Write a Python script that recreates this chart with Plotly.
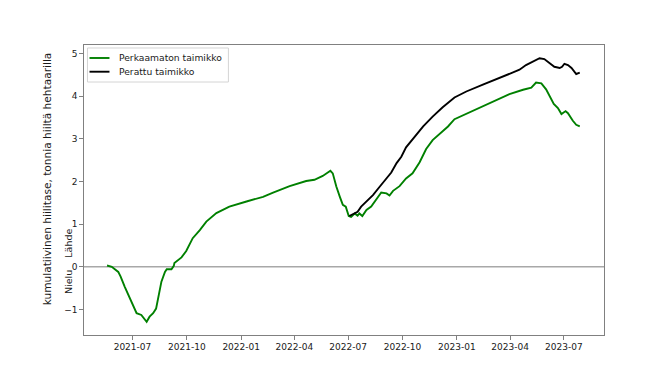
import plotly.graph_objects as go

green_dates = ["2021-05-19","2021-05-27","2021-06-07","2021-06-11","2021-06-18","2021-06-24","2021-06-29",
    "2021-07-05","2021-07-08","2021-07-16","2021-07-22","2021-07-25","2021-07-30","2021-08-05","2021-08-10",
    "2021-08-13","2021-08-16","2021-08-19","2021-08-25","2021-08-28","2021-09-05","2021-09-09","2021-09-10",
    "2021-09-22","2021-09-30","2021-10-11","2021-10-23","2021-11-03","2021-11-20","2021-12-12","2022-01-10",
    "2022-02-07","2022-02-24","2022-03-24","2022-04-21","2022-05-05","2022-05-19","2022-06-01","2022-06-05",
    "2022-06-11","2022-06-17","2022-06-22","2022-06-27","2022-07-02","2022-07-06","2022-07-12","2022-07-17",
    "2022-07-20","2022-07-25","2022-08-01","2022-08-09","2022-08-15","2022-08-20","2022-08-26","2022-09-04",
    "2022-09-09","2022-09-15","2022-09-26","2022-10-07","2022-10-18","2022-10-30","2022-11-10","2022-11-21",
    "2022-12-08","2022-12-17","2022-12-28","2023-01-23","2023-02-14","2023-03-14","2023-03-31","2023-04-23",
    "2023-05-07","2023-05-15","2023-05-24","2023-06-01","2023-06-08","2023-06-14","2023-06-21","2023-06-27",
    "2023-07-04","2023-07-08","2023-07-16","2023-07-22","2023-07-28"]
green_values = [0.03,0.00,-0.12,-0.23,-0.47,-0.66,-0.82,
    -1.02,-1.09,-1.13,-1.25,-1.29,-1.17,-1.09,-0.98,
    -0.78,-0.55,-0.35,-0.12,-0.06,-0.06,0.02,0.09,
    0.22,0.37,0.67,0.86,1.06,1.26,1.41,1.53,
    1.64,1.74,1.89,2.01,2.04,2.13,2.25,2.19,
    1.88,1.64,1.45,1.41,1.19,1.17,1.25,1.20,
    1.25,1.19,1.33,1.41,1.53,1.64,1.74,1.72,
    1.67,1.78,1.89,2.07,2.19,2.45,2.76,2.97,
    3.17,3.29,3.46,3.62,3.76,3.93,4.05,4.15,
    4.20,4.32,4.30,4.16,3.99,3.82,3.72,3.58,
    3.65,3.60,3.43,3.33,3.29]

black_dates = ["2022-07-03","2022-07-09","2022-07-17","2022-07-23","2022-08-01","2022-08-12","2022-08-23",
    "2022-09-04","2022-09-12","2022-09-21","2022-09-29","2022-10-07","2022-10-18","2022-11-05","2022-11-21",
    "2022-12-08","2022-12-28","2023-01-17","2023-02-14","2023-03-14","2023-04-17","2023-04-28","2023-05-10",
    "2023-05-21","2023-05-29","2023-06-07","2023-06-15","2023-06-24","2023-06-28","2023-07-02","2023-07-08",
    "2023-07-14","2023-07-22","2023-07-28"]
black_values = [1.19,1.24,1.29,1.41,1.53,1.68,1.87,
    2.08,2.21,2.43,2.58,2.80,2.99,3.29,3.52,
    3.74,3.97,4.11,4.27,4.42,4.62,4.73,4.81,
    4.89,4.87,4.77,4.69,4.66,4.69,4.76,4.73,
    4.66,4.52,4.55]

series_names = ["Perkaamaton taimikko", "Perattu taimikko"]
series_colors = ["#008000", "#000000"]
y_title = "kumulatiivinen hiilitase, tonnia hiiltä hehtaarilla"
side_label = "Nielu\u00a0\u00a0\u00a0\u00a0Lähde"
x_range = ["2021-04-10", "2023-09-07"]
y_range = [-1.60, 5.20]
y_ticks = [-1, 0, 1, 2, 3, 4, 5]

FONT = "DejaVu Sans"
SPINE = "#808080"
TXT = "#1a1a1a"

fig = go.Figure()
fig.add_trace(go.Scatter(x=green_dates, y=green_values, mode="lines", name=series_names[0],
                         line=dict(color=series_colors[0], width=1.9)))
fig.add_trace(go.Scatter(x=black_dates, y=black_values, mode="lines", name=series_names[1],
                         line=dict(color=series_colors[1], width=1.9)))

fig.add_hline(y=0, line=dict(color="#a8a8a8", width=1.4), layer="below")

fig.update_layout(
    width=671, height=377,
    margin=dict(l=76, r=75, t=37, b=50),
    paper_bgcolor="white", plot_bgcolor="white",
    font=dict(family=FONT, size=9, color=TXT),
    showlegend=False,
    xaxis=dict(range=x_range, type="date", dtick="M3", tick0="2021-01-01", tickformat="%Y-%m",
               showgrid=False, zeroline=False, showline=True, linecolor=SPINE, linewidth=1.2,
               mirror=True, ticks="outside", ticklen=3.5, tickcolor=SPINE, tickwidth=1,
               tickfont=dict(family=FONT, size=9, color=TXT)),
    yaxis=dict(range=y_range, tickvals=y_ticks,
               showgrid=False, zeroline=False, showline=True, linecolor=SPINE, linewidth=1.2,
               mirror=True, ticks="outside", ticklen=3.5, tickcolor=SPINE, tickwidth=1,
               tickfont=dict(family=FONT, size=9, color=TXT)),
)

# legend box (drawn manually to mimic matplotlib's compact legend)
fig.add_shape(type="rect", xref="paper", yref="paper", x0=0.0067, x1=0.2777, y0=0.8724, y1=0.9897,
              line=dict(color="#d4d4d4", width=1), fillcolor="rgba(255,255,255,0.85)")
legend_rows_y = [0.9552, 0.9079]
for name, color, yy in zip(series_names, series_colors, legend_rows_y):
    fig.add_shape(type="line", xref="paper", yref="paper", x0=0.0106, x1=0.0490, y0=yy, y1=yy,
                  line=dict(color=color, width=1.9))
    fig.add_annotation(text=name, xref="paper", yref="paper", x=0.0644, y=yy,
                       xanchor="left", yanchor="middle", showarrow=False,
                       font=dict(family=FONT, size=9.2, color=TXT))

fig.add_annotation(text=y_title, xref="paper", yref="paper", x=-0.0711, y=0.537,
                   xanchor="center", yanchor="middle", textangle=-90, showarrow=False,
                   font=dict(family=FONT, size=10.6, color=TXT))
fig.add_annotation(text=side_label, xref="paper", yref="paper", x=-0.0308, y=0.255,
                   xanchor="center", yanchor="middle", textangle=-90, showarrow=False,
                   font=dict(family=FONT, size=9.5, color=TXT))

fig.write_html("out.html")
